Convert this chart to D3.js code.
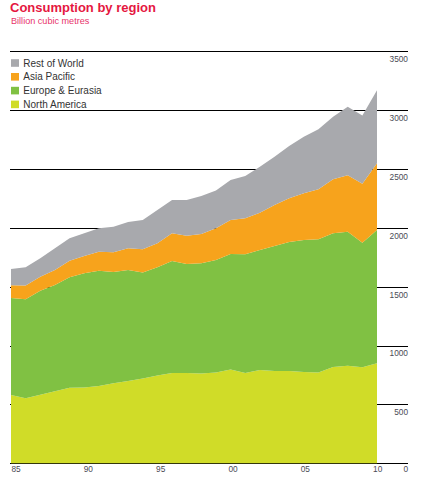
<!DOCTYPE html>
<html>
<head>
<meta charset="utf-8">
<script src="https://cdn.jsdelivr.net/npm/d3@7/dist/d3.min.js"></script>
<style>
  body { margin: 0; background: #fff; }
  svg { display: block; font-family: "Liberation Sans", Arial, sans-serif; }
</style>
</head>
<body>
<svg id="chart" width="429" height="481"></svg>
<script>
const years = d3.range(1985, 2011);
const northAmerica = [580, 552, 582, 612, 642, 644, 657, 680, 699, 720, 746, 767, 767, 763, 771, 797, 767, 793, 784, 784, 776, 771, 818, 829, 815, 850];
const europeEurasia = [825, 841, 884, 903, 938, 970, 979, 945, 943, 900, 919, 952, 926, 936, 956, 981, 1009, 1019, 1062, 1096, 1121, 1132, 1136, 1139, 1059, 1132];
const asiaPacific = [108, 117, 119, 127, 141, 147, 162, 167, 185, 198, 204, 235, 241, 249, 270, 289, 306, 317, 349, 371, 397, 425, 459, 479, 501, 567];
const restOfWorld = [138, 155, 157, 185, 191, 193, 199, 218, 223, 249, 283, 283, 303, 323, 320, 340, 359, 391, 410, 445, 481, 510, 532, 581, 580, 621];
const seriesNames = ["North America", "Europe & Eurasia", "Asia Pacific", "Rest of World"];
const seriesColors = ["#d0dc28", "#80c143", "#f7a31c", "#a8a9ad"];
const xTickYears = [1985, 1990, 1995, 2000, 2005, 2010];
const xTickLabels = ["85", "90", "95", "00", "05", "10"];
const yTicks = [0, 500, 1000, 1500, 2000, 2500, 3000, 3500];

const rows = years.map((y, i) => ({
  year: y,
  "North America": northAmerica[i],
  "Europe & Eurasia": europeEurasia[i],
  "Asia Pacific": asiaPacific[i],
  "Rest of World": restOfWorld[i]
}));

const svg = d3.select("#chart");
const x = d3.scaleLinear().domain([1985, 2010]).range([11, 377]);
const xLabel = d3.scaleLinear().domain([1985, 2010]).range([16, 377.7]);
const y = d3.scaleLinear().domain([0, 3500]).range([463.3, 51.3]);

// gridlines
svg.append("g").selectAll("line").data(yTicks).join("line")
  .attr("x1", 10).attr("x2", 408)
  .attr("y1", d => Math.round(y(d)) + 0.5).attr("y2", d => Math.round(y(d)) + 0.5)
  .attr("stroke", "#000").attr("stroke-width", 1);

// stacked areas
const stack = d3.stack().keys(seriesNames);
const layers = stack(rows);
const area = d3.area()
  .x(d => x(d.data.year))
  .y0(d => y(d[0]))
  .y1(d => y(d[1]));
svg.append("g").selectAll("path").data(layers).join("path")
  .attr("d", area)
  .attr("fill", (d, i) => seriesColors[i]);

// y labels (right)
svg.append("g").selectAll("text").data(yTicks).join("text")
  .attr("x", 408)
  .attr("y", d => d === 0 ? 472 : y(d) + 10.8)
  .attr("text-anchor", "end")
  .attr("font-size", 8.3)
  .attr("fill", "#4a4a55")
  .text(d => d);

// x labels
svg.append("g").selectAll("text").data(xTickYears).join("text")
  .attr("x", d => xLabel(d))
  .attr("y", 472)
  .attr("text-anchor", "middle")
  .attr("font-size", 8.3)
  .attr("fill", "#4a4a55")
  .text((d, i) => xTickLabels[i]);

// title
svg.append("text").attr("x", 10).attr("y", 11.5)
  .attr("font-size", 13).attr("font-weight", "bold").attr("fill", "#e5173f")
  .text("Consumption by region");
svg.append("text").attr("x", 11).attr("y", 24)
  .attr("font-size", 9.1).attr("fill", "#e8336b")
  .text("Billion cubic metres");

// legend
svg.append("rect").attr("x", 10).attr("y", 53).attr("width", 115).attr("height", 56).attr("fill", "#fff");
const legendOrder = [3, 2, 1, 0];
const lg = svg.append("g").selectAll("g").data(legendOrder).join("g")
  .attr("transform", (d, i) => `translate(11, ${63 + i * 13.8})`);
lg.append("rect").attr("x", 0).attr("y", -3.8).attr("width", 8).attr("height", 7.6)
  .attr("fill", d => seriesColors[d]);
lg.append("text").attr("x", 12.3).attr("y", 3.6)
  .attr("font-size", 10).attr("fill", "#333")
  .text(d => seriesNames[d]);
</script>
</body>
</html>
